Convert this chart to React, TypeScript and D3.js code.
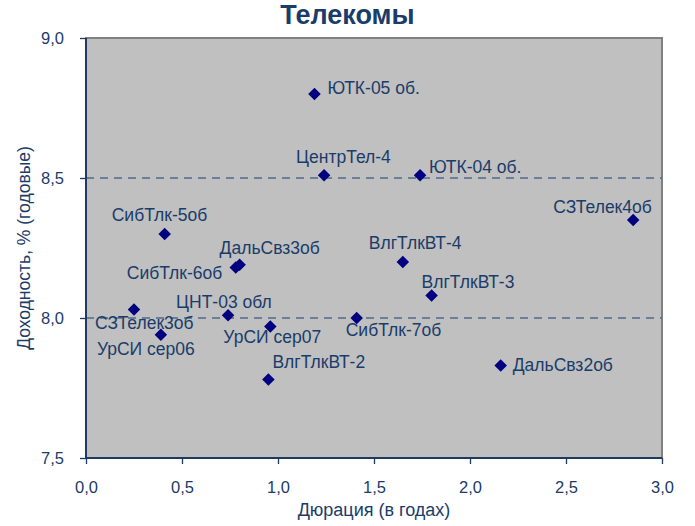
import { useEffect, useRef } from 'react';
import * as d3 from 'd3';

// Дюрация (годы) и доходность (%) по выпускам
const NAMES = [
  'ЮТК-05 об.', 'ЦентрТел-4', 'ЮТК-04 об.', 'СЗТелек4об', 'СибТлк-5об',
  'ДальСвз3об', 'СибТлк-6об', 'ЦНТ-03 обл', 'СЗТелек3об', 'УрСИ сер06',
  'УрСИ сер07', 'СибТлк-7об', 'ВлгТлкВТ-2', 'ВлгТлкВТ-4', 'ВлгТлкВТ-3', 'ДальСвз2об',
];
const DURATION = [1.19, 1.24, 1.74, 2.85, 0.41, 0.80, 0.78, 0.74, 0.25, 0.39, 0.96, 1.41, 0.95, 1.65, 1.80, 2.16];
const YIELD = [8.80, 8.51, 8.51, 8.35, 8.30, 8.19, 8.18, 8.01, 8.03, 7.94, 7.97, 8.00, 7.78, 8.20, 8.08, 7.83];

// label placement relative to the marker (text start, baseline), px
const LABEL_DX = [13, -28, 9, -80, -53, -20, -109, -52, -39, -64, -47, -11, 4, -34, -10, 12];
const LABEL_DY = [0, -12, -2, -7, -13, -11, 11, -7, 19, 20, 17, 18, -12, -13, -8, 5];

const X_TICKS = [0, 0.5, 1, 1.5, 2, 2.5, 3];
const Y_TICKS = [7.5, 8, 8.5, 9];
const GRID_LINES = [8, 8.5];

const W = 695;
const H = 526;
const FONT = 'Arial, "Liberation Sans", sans-serif';
const TEXT = '#1A3C6A';

export default function App() {
  const svgRef = useRef<SVGSVGElement>(null);

  useEffect(() => {
    const svg = d3.select(svgRef.current);
    svg.selectAll('*').remove();

    const m = { top: 38, right: 33, bottom: 68, left: 86 };
    const x = d3.scaleLinear().domain([0, 3]).range([m.left, W - m.right]);
    const y = d3.scaleLinear().domain([7.5, 9]).range([H - m.bottom, m.top]);
    const fmt = (v: number) => d3.format('.1f')(v).replace('.', ',');

    svg.append('rect').attr('width', W).attr('height', H).attr('fill', '#fff');

    // plot area
    svg.append('rect')
      .attr('x', x(0)).attr('y', y(9))
      .attr('width', x(3) - x(0)).attr('height', y(7.5) - y(9))
      .attr('fill', '#C0C0C0')
      .attr('stroke', '#808080').attr('stroke-width', 2);

    // dashed gridlines
    svg.selectAll('line.grid')
      .data(GRID_LINES)
      .join('line')
      .attr('class', 'grid')
      .attr('x1', x(0)).attr('x2', x(3))
      .attr('y1', (d) => y(d)).attr('y2', (d) => y(d))
      .attr('stroke', '#4F6A8C').attr('stroke-width', 1.3)
      .attr('stroke-dasharray', '8,6');

    // axes
    const xAxis = svg.append('g').attr('transform', `translate(0,${y(7.5)})`)
      .call(d3.axisBottom(x).tickValues(X_TICKS).tickFormat((d) => fmt(+d)).tickSize(6));
    const yAxis = svg.append('g').attr('transform', `translate(${x(0)},0)`)
      .call(d3.axisLeft(y).tickValues(Y_TICKS).tickFormat((d) => fmt(+d)).tickSize(6));

    [xAxis, yAxis].forEach((g) => {
      g.select('.domain').attr('stroke', '#1F3A5F').attr('stroke-width', 2);
      g.selectAll('.tick line').attr('stroke', '#1F3A5F').attr('stroke-width', 1.3);
      g.selectAll('.tick text')
        .attr('fill', TEXT).attr('font-family', FONT).attr('font-size', 16.5);
    });
    xAxis.select('.domain').attr('d', `M${x(0)},0H${x(3)}`);
    yAxis.select('.domain').attr('d', `M0,${y(7.5)}V${y(9)}`);
    xAxis.selectAll('.tick text').attr('dy', '0.35em').attr('y', 29);
    yAxis.selectAll('.tick text').attr('x', -22);

    // title
    svg.append('text')
      .attr('x', W / 2).attr('y', 24)
      .attr('text-anchor', 'middle')
      .attr('fill', TEXT).attr('font-family', FONT)
      .attr('font-size', 27).attr('font-weight', 'bold')
      .text('Телекомы');

    // axis titles
    svg.append('text')
      .attr('x', (x(0) + x(3)) / 2).attr('y', 516)
      .attr('text-anchor', 'middle')
      .attr('fill', TEXT).attr('font-family', FONT).attr('font-size', 18)
      .text('Дюрация (в годах)');

    svg.append('text')
      .attr('transform', `translate(30,${(y(7.5) + y(9)) / 2}) rotate(-90)`)
      .attr('text-anchor', 'middle')
      .attr('fill', TEXT).attr('font-family', FONT).attr('font-size', 17.5)
      .text('Доходность, % (годовые)');

    const pts = NAMES.map((name, i) => ({ name, d: DURATION[i], y: YIELD[i], dx: LABEL_DX[i], dy: LABEL_DY[i] }));

    const diamond = d3.symbol().type(d3.symbolDiamond2).size(100);
    svg.selectAll('path.pt')
      .data(pts)
      .join('path')
      .attr('class', 'pt')
      .attr('d', diamond)
      .attr('transform', (p) => `translate(${x(p.d)},${y(p.y)})`)
      .attr('fill', '#000080');

    svg.selectAll('text.lbl')
      .data(pts)
      .join('text')
      .attr('class', 'lbl')
      .attr('x', (p) => x(p.d) + p.dx)
      .attr('y', (p) => y(p.y) + p.dy)
      .attr('fill', TEXT).attr('font-family', FONT).attr('font-size', 17.5)
      .text((p) => p.name);
  }, []);

  return (
    <svg
      ref={svgRef}
      width={W}
      height={H}
      style={{ position: 'absolute', left: 0, top: 0, display: 'block' }}
    />
  );
}
